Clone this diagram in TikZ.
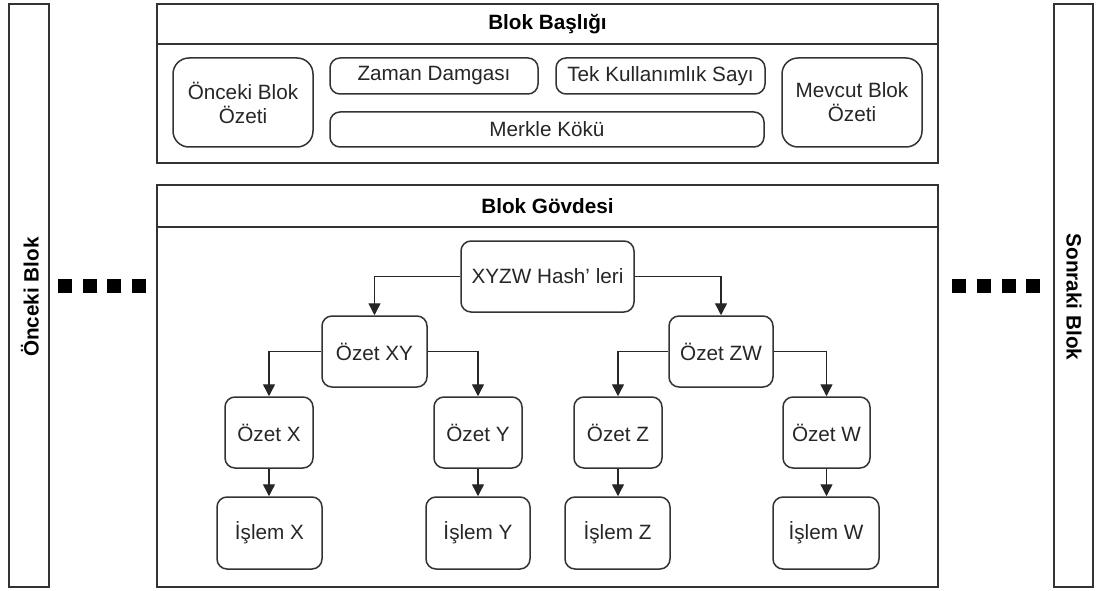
\documentclass[tikz,border=0pt]{standalone}
\usepackage{fontspec}
\setmainfont{Liberation Sans}
\usetikzlibrary{arrows.meta}
\begin{document}
\begin{tikzpicture}[x=1pt,y=-1pt,
  every node/.style={font=\fontsize{20.7}{24}\selectfont, text=black!85},
  frame/.style={draw=black!80, line width=1.5pt, inner sep=0pt},
  box/.style={frame, rounded corners=10pt, align=center},
  bigbox/.style={frame, rounded corners=16pt, align=center},
  title/.style={font=\fontsize{20.7}{24}\selectfont\bfseries, text=black},
  link/.style={draw=black!85, line width=1.4pt, -{Triangle[length=12pt,width=12pt]}},
  dot/.style={fill=black}
]
\useasboundingbox (0,0) rectangle (1096,591);

% neighbouring blocks
\node[frame, minimum width=40pt, minimum height=583pt] (prevblk) at (29,295.5) {};
\node[frame, minimum width=39pt, minimum height=583pt] (nextblk) at (1073.5,295.5) {};
\node[title, rotate=90] (prevlbl) at (30,297) {Önceki Blok};
\node[title, rotate=-90] (nextlbl) at (1074,297) {Sonraki Blok};

% continuation marks
\foreach \x in {58,83,107,132} \fill[dot] (\x,279) rectangle ++(14,14);
\foreach \x in {952,977,1002,1026} \fill[dot] (\x,279) rectangle ++(14,14);

% block header
\node[frame, minimum width=781pt, minimum height=159pt] (header) at (547.5,83.5) {};
\draw[draw=black!80, line width=1.5pt] (header.west |- 0,44) -- (header.east |- 0,44);
\node[title] (headerlbl) at (547.5,24) {Blok Başlığı};

\node[bigbox, minimum width=140pt, minimum height=89pt] (prevhash) at (243,102.5) {Önceki Blok\\Özeti};
\node[box, minimum width=208pt, minimum height=36pt] (ts) at (434,76) {Zaman Damgası};
\node[box, minimum width=209pt, minimum height=36pt] (nonce) at (660.5,76) {Tek Kullanımlık Sayı};
\node[box, minimum width=434pt, minimum height=35pt] (merkle) at (547,129.5) {Merkle Kökü};
\node[bigbox, minimum width=140pt, minimum height=89pt] (curhash) at (852,102.5) {Mevcut Blok\\Özeti};

% block body
\node[frame, minimum width=781pt, minimum height=402pt] (body) at (547.5,386) {};
\draw[draw=black!80, line width=1.5pt] (body.west |- 0,227) -- (body.east |- 0,227);
\node[title] (bodylbl) at (547.5,206) {Blok Gövdesi};

% Merkle tree
\node[box, minimum width=173pt, minimum height=71pt] (root) at (547.5,276.5) {XYZW Hash' leri};
\node[box, minimum width=105pt, minimum height=71pt] (xy) at (374.5,351.5) {Özet XY};
\node[box, minimum width=104pt, minimum height=71pt] (zw) at (721,351.5) {Özet ZW};

\node[box, minimum width=88pt, minimum height=71pt] (hx) at (269,432.5) {Özet X};
\node[box, minimum width=88pt, minimum height=71pt] (hy) at (478,432.5) {Özet Y};
\node[box, minimum width=88pt, minimum height=71pt] (hz) at (618,432.5) {Özet Z};
\node[box, minimum width=87pt, minimum height=71pt] (hw) at (826.5,432.5) {Özet W};

\node[box, minimum width=105pt, minimum height=72pt] (tx) at (269.5,533) {İşlem X};
\node[box, minimum width=104pt, minimum height=72pt] (ty) at (478,533) {İşlem Y};
\node[box, minimum width=105pt, minimum height=72pt] (tz) at (617.5,533) {İşlem Z};
\node[box, minimum width=106pt, minimum height=72pt] (tw) at (826,533) {İşlem W};

\draw[link] (root.west) -| (xy.north);
\draw[link] (root.east) -| (zw.north);
\draw[link] (xy.west) -| (hx.north);
\draw[link] (xy.east) -| (hy.north);
\draw[link] (zw.west) -| (hz.north);
\draw[link] (zw.east) -| (hw.north);
\draw[link] (hx.south) -- (hx.south |- tx.north);
\draw[link] (hy.south) -- (hy.south |- ty.north);
\draw[link] (hz.south) -- (hz.south |- tz.north);
\draw[link] (hw.south) -- (hw.south |- tw.north);
\end{tikzpicture}
\end{document}
